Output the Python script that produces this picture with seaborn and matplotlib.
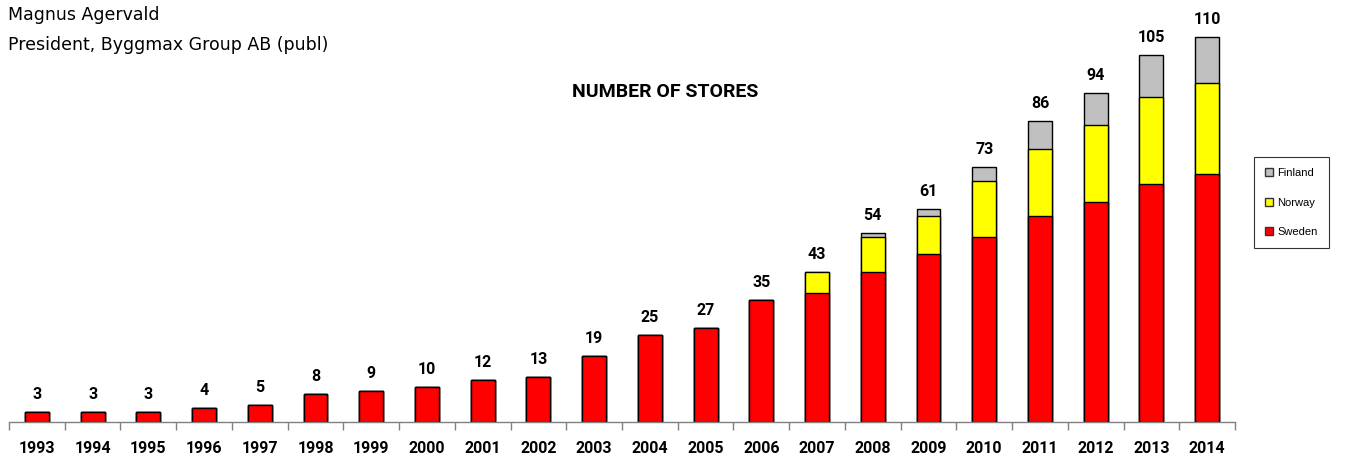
import matplotlib
matplotlib.use("Agg")
import matplotlib.pyplot as plt
import matplotlib.patches as mpatches
import seaborn as sns
import pandas as pd
import numpy as np

years = ["1993", "1994", "1995", "1996", "1997", "1998", "1999", "2000", "2001", "2002", "2003",
         "2004", "2005", "2006", "2007", "2008", "2009", "2010", "2011", "2012", "2013", "2014"]
sweden = [3, 3, 3, 4, 5, 8, 9, 10, 12, 13, 19, 25, 27, 35, 37, 43, 48, 53, 59, 63, 68, 71]
norway = [0, 0, 0, 0, 0, 0, 0, 0, 0, 0, 0, 0, 0, 0, 6, 10, 11, 16, 19, 22, 25, 26]
finland = [0, 0, 0, 0, 0, 0, 0, 0, 0, 0, 0, 0, 0, 0, 0, 1, 2, 4, 8, 9, 12, 13]
totals = [3, 3, 3, 4, 5, 8, 9, 10, 12, 13, 19, 25, 27, 35, 43, 54, 61, 73, 86, 94, 105, 110]

sns.set_theme(style="white")
plt.rcParams["font.family"] = ["DejaVu Sans"]
plt.rcParams["text.color"] = "black"
plt.rcParams["xtick.color"] = "black"
narrow = "Roboto"

df = pd.DataFrame({"year": years,
                   "sweden": sweden,
                   "sw_no": np.array(sweden) + np.array(norway),
                   "total": np.array(sweden) + np.array(norway) + np.array(finland)})

fig = plt.figure(figsize=(13.46, 4.57), dpi=100)
ax = fig.add_axes([9 / 1346, 35 / 457, (1235 - 9) / 1346, 420 / 457])

kw = dict(x="year", width=0.43, edgecolor="black", linewidth=1.0, ax=ax, zorder=2)
sns.barplot(data=df, y="total", color="#c0c0c0", saturation=1, **kw)
sns.barplot(data=df, y="sw_no", color="#ffff00", saturation=1, **kw)
sns.barplot(data=df, y="sweden", color="#ff0000", saturation=1, **kw)

ax.set_ylim(0, 120)
ax.set_xlim(-0.5, len(years) - 0.5)
ax.set_xlabel("")
ax.set_ylabel("")
ax.set_yticks([])
for s in ["top", "left", "right"]:
    ax.spines[s].set_visible(False)
ax.spines["bottom"].set_color("#808080")
ax.spines["bottom"].set_linewidth(1.0)

ax.set_xticks(np.arange(len(years)))
ax.set_xticklabels(years, fontfamily=narrow, fontweight="bold", fontsize=11.5)
ax.set_xticks(np.arange(-0.5, len(years)), minor=True)
ax.tick_params(axis="x", which="major", length=0, pad=14)
ax.tick_params(axis="x", which="minor", length=6, direction="out", color="#808080", width=1, bottom=True)

for i, t in enumerate(totals):
    ax.annotate(str(t), (i, t), xytext=(0, 7), textcoords="offset points",
                ha="center", va="bottom", fontfamily=narrow, fontweight="bold", fontsize=11.5)

fig.text(8 / 1346, 1 - 15 / 457, "Magnus Agervald", fontsize=12.5, va="center", ha="left")
fig.text(8 / 1346, 1 - 45 / 457, "President, Byggmax Group AB (publ)", fontsize=12.5, va="center", ha="left")
fig.text(665 / 1346, 1 - 92 / 457, "NUMBER OF STORES", fontsize=14, fontweight="bold",
         fontfamily=narrow, va="center", ha="center")

handles = [mpatches.Patch(facecolor="#c0c0c0", edgecolor="#333333", label="Finland"),
           mpatches.Patch(facecolor="#ffff00", edgecolor="#333333", label="Norway"),
           mpatches.Patch(facecolor="#ff0000", edgecolor="#333333", label="Sweden")]
leg = fig.legend(handles=handles, loc="upper left", bbox_to_anchor=(1254 / 1346, 1 - 157 / 457),
                 borderaxespad=0, frameon=True, handlelength=0.7, handleheight=0.7, handletextpad=0.4,
                 labelspacing=1.75, borderpad=1.0, fancybox=False,
                 prop={"family": "Liberation Sans", "size": 8})
leg.get_frame().set_edgecolor("black")
leg.get_frame().set_linewidth(0.8)

fig.savefig("out.png", dpi=100)
